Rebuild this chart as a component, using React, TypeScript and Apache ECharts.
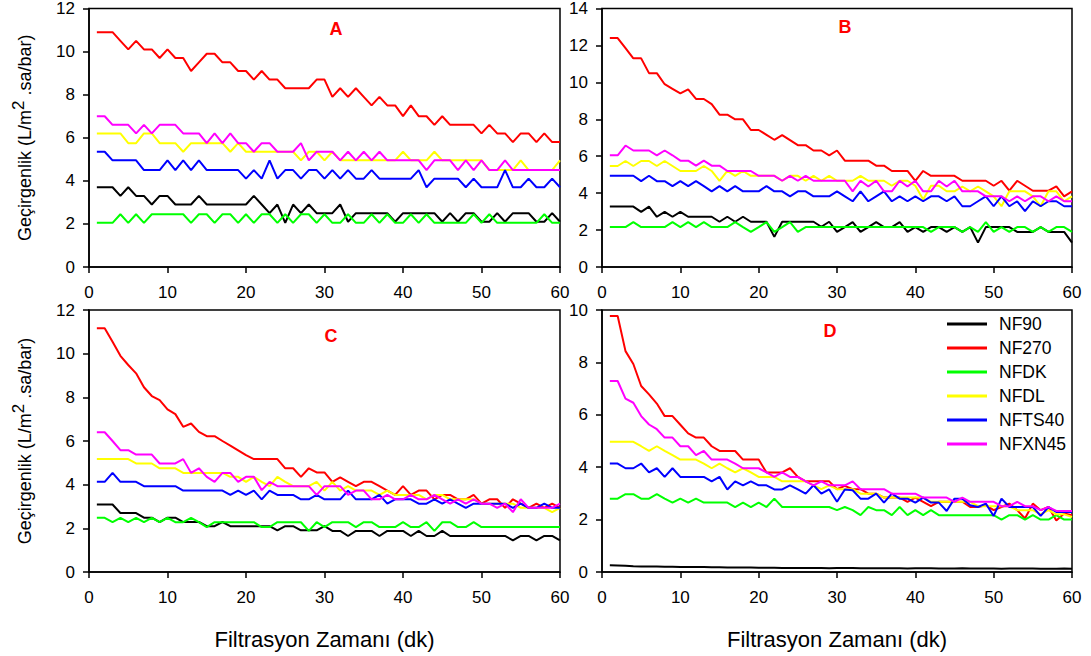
import React, { useEffect, useRef } from "react";
import * as echarts from "echarts";

const minutes: number[] = Array.from({ length: 60 }, (_, i) => i + 1);
const seriesNames = ["NF90", "NF270", "NFDK", "NFDL", "NFTS40", "NFXN45"];
const seriesColors = ["#000000", "#ff0000", "#00ff00", "#ffff00", "#0000ff", "#ff00ff"];
const panelLabels = ["A", "B", "C", "D"];
const yMaxes = [12, 14, 12, 10];
const xTitle = "Filtrasyon Zamanı (dk)";
const yTitle = "Geçirgenlik (L/m{sup|2} .sa/bar)";

// Panel A
const A_NF90 = [3.7, 3.7, 3.7, 3.3, 3.7, 3.3, 3.3, 2.9, 3.3, 3.3, 2.9, 2.9, 2.9, 3.3, 2.9, 2.9, 2.9, 2.9, 2.9, 2.9, 3.3, 2.9, 2.5, 2.9, 2.05, 2.9, 2.5, 2.9, 2.5, 2.5, 2.5, 2.9, 2.1, 2.5, 2.5, 2.5, 2.5, 2.5, 2.1, 2.5, 2.5, 2.5, 2.5, 2.5, 2.1, 2.5, 2.1, 2.5, 2.5, 2.1, 2.1, 2.5, 2.1, 2.5, 2.5, 2.5, 2.1, 2.1, 2.5, 2.1];
const A_NF270 = [10.9, 10.9, 10.9, 10.5, 10.1, 10.5, 10.1, 10.1, 9.7, 10.1, 9.7, 9.7, 9.1, 9.5, 9.9, 9.9, 9.5, 9.5, 9.1, 9.1, 8.7, 9.1, 8.7, 8.7, 8.3, 8.3, 8.3, 8.3, 8.7, 8.7, 7.9, 8.3, 7.9, 8.3, 7.9, 7.5, 7.9, 7.5, 7.5, 7.0, 7.5, 7.0, 7.0, 6.6, 7.0, 6.6, 6.6, 6.6, 6.6, 6.2, 6.6, 6.2, 6.2, 5.8, 6.2, 6.2, 5.8, 6.2, 5.8, 5.8];
const A_NFDK = [2.05, 2.05, 2.05, 2.45, 2.05, 2.45, 2.05, 2.45, 2.45, 2.45, 2.45, 2.45, 2.05, 2.45, 2.45, 2.05, 2.45, 2.45, 2.05, 2.45, 2.05, 2.45, 2.45, 2.05, 2.45, 2.05, 2.45, 2.45, 2.05, 2.45, 2.05, 2.05, 2.45, 2.05, 2.05, 2.45, 2.05, 2.45, 2.05, 2.05, 2.45, 2.05, 2.45, 2.05, 2.05, 2.05, 2.05, 2.05, 2.45, 2.05, 2.45, 2.05, 2.05, 2.05, 2.05, 2.05, 2.05, 2.45, 2.05, 2.05];
const A_NFDL = [6.2, 6.2, 6.2, 6.2, 5.75, 5.75, 6.2, 6.2, 5.75, 5.75, 5.75, 5.35, 5.75, 5.75, 5.75, 5.75, 5.75, 5.35, 5.75, 5.35, 5.35, 5.35, 5.35, 5.35, 5.35, 5.35, 4.95, 5.35, 5.35, 4.95, 5.35, 4.95, 4.95, 4.95, 4.95, 4.95, 4.95, 4.95, 4.95, 5.35, 4.95, 4.95, 4.95, 5.35, 4.95, 4.95, 4.95, 4.95, 4.95, 4.95, 4.5, 4.5, 4.5, 4.5, 4.95, 4.5, 4.5, 4.5, 4.5, 4.95];
const A_NFTS40 = [5.35, 5.35, 4.95, 4.95, 4.95, 4.95, 4.5, 4.5, 4.5, 4.95, 4.5, 4.95, 4.5, 4.95, 4.5, 4.5, 4.5, 4.5, 4.5, 4.1, 4.5, 4.1, 4.95, 4.1, 4.5, 4.5, 4.1, 4.5, 4.5, 4.1, 4.5, 4.1, 4.5, 4.1, 4.1, 4.5, 4.1, 4.1, 4.1, 4.1, 4.1, 4.5, 3.7, 4.1, 4.1, 4.1, 4.1, 3.7, 4.1, 3.7, 3.7, 3.7, 4.5, 3.7, 3.7, 4.1, 3.7, 3.7, 4.1, 3.7];
const A_NFXN45 = [7.0, 7.0, 6.6, 6.6, 6.6, 6.2, 6.6, 6.2, 6.6, 6.6, 6.6, 6.2, 6.2, 6.2, 5.75, 6.2, 5.75, 6.2, 5.75, 5.75, 5.35, 5.75, 5.75, 5.35, 5.35, 5.35, 5.75, 4.95, 5.35, 5.35, 5.35, 4.95, 5.35, 4.95, 5.35, 4.95, 5.35, 4.95, 4.95, 4.95, 4.95, 4.95, 4.5, 4.95, 4.95, 4.95, 4.5, 4.95, 4.5, 4.95, 4.5, 4.5, 4.95, 4.5, 4.5, 4.5, 4.5, 4.5, 4.5, 4.5];

// Panel B
const B_NF90 = [3.27, 3.27, 3.27, 3.27, 2.99, 3.27, 2.72, 2.99, 2.72, 2.99, 2.72, 2.72, 2.72, 2.72, 2.45, 2.72, 2.45, 2.72, 2.45, 2.45, 2.45, 1.63, 2.45, 2.45, 2.45, 2.45, 2.45, 2.18, 2.45, 1.9, 2.16, 2.43, 1.9, 2.16, 2.43, 2.16, 2.16, 2.43, 1.9, 2.16, 1.9, 2.16, 2.16, 1.9, 2.16, 1.9, 2.16, 1.32, 2.16, 2.16, 2.16, 2.16, 1.9, 1.9, 1.9, 2.16, 1.9, 1.9, 1.9, 1.32];
const B_NF270 = [12.4, 12.4, 11.85, 11.3, 11.3, 10.5, 10.5, 9.9, 9.65, 9.4, 9.62, 9.1, 9.1, 8.82, 8.25, 8.25, 8.0, 8.0, 7.42, 7.42, 7.16, 6.89, 7.14, 6.87, 6.6, 6.6, 6.31, 6.31, 6.05, 6.31, 5.76, 5.76, 5.76, 5.76, 5.49, 5.49, 5.2, 5.2, 5.2, 4.67, 5.2, 4.94, 4.94, 4.94, 4.94, 4.67, 4.67, 4.67, 4.67, 4.4, 4.67, 4.13, 4.67, 4.4, 4.13, 4.13, 4.13, 4.36, 3.83, 4.1];
const B_NFDK = [2.16, 2.16, 2.16, 2.43, 2.16, 2.16, 2.16, 2.16, 2.43, 2.16, 2.43, 2.16, 2.43, 2.16, 2.16, 2.16, 2.43, 2.16, 1.9, 2.16, 2.43, 1.9, 2.16, 2.43, 1.9, 2.16, 2.16, 2.16, 2.16, 2.16, 2.16, 2.16, 2.16, 2.16, 2.16, 2.16, 2.16, 2.16, 2.16, 2.16, 2.16, 1.9, 2.16, 2.16, 2.16, 1.9, 2.16, 1.9, 2.43, 1.9, 2.16, 1.9, 2.16, 2.16, 1.9, 2.16, 1.9, 2.16, 2.16, 1.9];
const B_NFDL = [5.47, 5.47, 5.74, 5.47, 5.74, 5.74, 5.47, 5.74, 5.47, 5.2, 5.2, 5.2, 5.47, 5.2, 4.67, 5.2, 4.94, 5.2, 4.94, 4.94, 4.94, 4.94, 4.67, 4.94, 4.94, 4.67, 4.94, 4.67, 4.94, 4.67, 4.67, 4.67, 4.94, 4.67, 4.67, 4.67, 4.4, 4.67, 4.67, 4.4, 3.65, 4.4, 4.4, 4.1, 4.1, 4.36, 4.1, 4.36, 4.1, 3.83, 3.29, 4.1, 4.1, 4.1, 3.83, 3.29, 4.1, 4.1, 3.56, 3.83];
const B_NFTS40 = [4.94, 4.94, 4.94, 4.94, 4.65, 4.94, 4.65, 4.65, 4.38, 4.65, 4.38, 4.65, 4.38, 4.1, 4.38, 4.1, 4.38, 4.1, 4.1, 4.1, 4.38, 4.1, 4.1, 3.83, 4.1, 4.1, 3.83, 3.83, 3.83, 4.1, 3.83, 3.56, 4.1, 3.56, 3.83, 4.1, 3.56, 3.83, 3.56, 3.83, 3.56, 3.83, 3.83, 3.56, 3.83, 3.29, 3.29, 3.56, 3.83, 3.29, 3.83, 3.29, 3.56, 3.02, 3.56, 3.29, 3.56, 3.56, 3.29, 3.29];
const B_NFXN45 = [6.05, 6.05, 6.58, 6.31, 6.31, 6.31, 6.05, 6.31, 6.05, 5.76, 5.76, 5.49, 5.76, 5.49, 5.49, 5.2, 5.2, 5.2, 5.2, 4.94, 4.94, 4.94, 4.67, 4.94, 4.67, 4.94, 4.67, 4.67, 4.67, 4.67, 4.67, 4.1, 4.67, 4.36, 4.67, 4.1, 4.1, 4.67, 4.36, 4.67, 4.1, 4.1, 4.67, 4.36, 4.67, 4.1, 4.1, 4.1, 3.83, 3.83, 3.83, 3.56, 3.83, 3.56, 3.83, 3.83, 3.56, 3.83, 3.56, 3.56];

// Panel C
const C_NF90 = [3.09, 3.09, 3.09, 2.7, 2.7, 2.7, 2.49, 2.49, 2.29, 2.49, 2.49, 2.29, 2.29, 2.29, 2.1, 2.1, 2.29, 2.1, 2.1, 2.1, 2.1, 2.1, 2.1, 1.91, 2.1, 2.1, 1.91, 1.91, 1.91, 2.1, 1.88, 1.88, 1.65, 1.88, 1.88, 1.88, 1.65, 1.88, 1.88, 1.88, 1.65, 1.88, 1.65, 1.65, 1.88, 1.65, 1.65, 1.65, 1.65, 1.65, 1.65, 1.65, 1.65, 1.45, 1.65, 1.65, 1.45, 1.65, 1.65, 1.45];
const C_NF270 = [11.16, 11.16, 10.55, 9.9, 9.48, 9.1, 8.46, 8.06, 7.87, 7.45, 7.23, 6.65, 6.8, 6.42, 6.22, 6.22, 6.0, 5.79, 5.57, 5.35, 5.17, 5.17, 5.17, 5.17, 4.75, 4.75, 4.36, 4.75, 4.56, 4.56, 4.13, 4.33, 4.13, 3.93, 4.13, 4.13, 3.93, 3.73, 3.53, 3.93, 3.53, 3.73, 3.73, 3.33, 3.53, 3.53, 3.33, 3.33, 3.53, 3.13, 3.33, 3.33, 2.94, 3.33, 3.13, 2.94, 3.13, 2.94, 3.13, 2.94];
const C_NFDK = [2.48, 2.48, 2.28, 2.48, 2.28, 2.48, 2.28, 2.48, 2.28, 2.48, 2.28, 2.28, 2.48, 2.28, 2.06, 2.28, 2.28, 2.28, 2.28, 2.28, 2.28, 2.06, 2.06, 2.28, 2.28, 2.28, 2.28, 1.88, 2.28, 2.06, 2.28, 2.28, 2.28, 2.06, 2.28, 2.28, 2.06, 2.06, 2.06, 2.28, 2.06, 2.06, 2.28, 1.88, 2.28, 2.28, 2.06, 2.06, 2.28, 2.06, 2.06, 2.06, 2.06, 2.06, 2.06, 2.06, 2.06, 2.06, 2.06, 2.06];
const C_NFDL = [5.17, 5.17, 5.17, 5.17, 5.17, 4.97, 4.97, 4.97, 4.75, 4.75, 4.75, 4.54, 4.54, 4.54, 4.54, 4.54, 4.54, 4.36, 4.36, 4.13, 4.36, 4.13, 3.93, 4.36, 4.13, 3.93, 3.93, 3.93, 4.13, 3.73, 4.13, 3.73, 3.93, 3.73, 3.73, 3.73, 3.53, 3.73, 3.53, 3.53, 3.53, 3.53, 3.33, 3.53, 3.53, 3.33, 3.33, 3.33, 3.33, 3.13, 3.13, 3.13, 3.13, 3.13, 2.94, 2.94, 2.94, 2.94, 2.74, 2.94];
const C_NFTS40 = [4.13, 4.13, 4.54, 4.13, 4.13, 4.13, 3.93, 3.93, 3.93, 3.93, 3.93, 3.73, 3.73, 3.73, 3.73, 3.73, 3.73, 3.53, 3.73, 3.53, 3.73, 3.33, 3.73, 3.53, 3.53, 3.53, 3.33, 3.33, 3.53, 3.33, 3.33, 3.33, 3.73, 3.33, 3.33, 3.33, 3.53, 3.13, 3.33, 3.33, 3.33, 3.13, 3.13, 3.33, 3.13, 3.33, 3.13, 2.94, 3.13, 3.13, 3.13, 3.13, 3.13, 2.94, 3.13, 2.94, 2.94, 3.13, 2.94, 2.94];
const C_NFXN45 = [6.4, 6.4, 6.0, 5.58, 5.58, 5.38, 5.38, 5.38, 4.97, 4.97, 4.97, 5.17, 4.54, 4.75, 4.36, 4.13, 4.54, 4.54, 4.13, 4.36, 4.36, 3.75, 4.13, 3.93, 3.93, 3.93, 3.93, 3.93, 3.53, 3.93, 3.93, 3.93, 3.53, 3.73, 3.73, 3.33, 3.33, 3.53, 3.33, 3.33, 3.53, 3.33, 3.33, 3.53, 3.33, 3.13, 3.33, 3.13, 3.33, 3.13, 3.13, 2.94, 3.13, 2.74, 3.33, 2.94, 2.94, 2.94, 2.94, 3.13];

// Panel D
const D_NF90 = [0.26, 0.25, 0.24, 0.22, 0.21, 0.21, 0.21, 0.2, 0.2, 0.19, 0.19, 0.19, 0.19, 0.18, 0.18, 0.17, 0.17, 0.17, 0.17, 0.16, 0.16, 0.16, 0.15, 0.15, 0.15, 0.15, 0.15, 0.15, 0.14, 0.15, 0.15, 0.15, 0.14, 0.14, 0.14, 0.14, 0.14, 0.14, 0.13, 0.14, 0.14, 0.14, 0.13, 0.13, 0.13, 0.14, 0.13, 0.13, 0.13, 0.13, 0.12, 0.13, 0.13, 0.13, 0.13, 0.12, 0.12, 0.12, 0.13, 0.12];
const D_NF270 = [9.77, 9.77, 8.43, 7.94, 7.1, 6.78, 6.43, 5.95, 5.95, 5.62, 5.29, 5.13, 5.13, 4.8, 4.62, 4.62, 4.62, 4.29, 4.29, 4.29, 3.8, 3.8, 3.8, 3.96, 3.63, 3.46, 3.46, 3.46, 3.46, 3.16, 3.29, 3.16, 3.16, 2.99, 2.99, 2.84, 2.84, 2.84, 2.68, 2.84, 2.68, 2.51, 2.68, 2.68, 2.68, 2.68, 2.48, 2.48, 2.55, 2.36, 2.48, 2.61, 2.36, 2.04, 2.61, 2.36, 2.48, 1.97, 2.23, 2.17];
const D_NFDK = [2.8, 2.8, 2.97, 2.97, 2.8, 2.8, 2.97, 2.8, 2.65, 2.8, 2.65, 2.8, 2.65, 2.65, 2.65, 2.65, 2.48, 2.65, 2.48, 2.65, 2.48, 2.8, 2.48, 2.48, 2.48, 2.48, 2.48, 2.48, 2.48, 2.36, 2.48, 2.36, 2.17, 2.48, 2.36, 2.36, 2.17, 2.48, 2.17, 2.36, 2.17, 2.36, 2.17, 2.17, 2.17, 2.17, 2.17, 2.17, 2.17, 2.17, 2.0, 2.17, 2.17, 2.0, 2.17, 2.0, 2.0, 2.17, 2.0, 2.0];
const D_NFDL = [4.97, 4.97, 4.97, 4.97, 4.8, 4.62, 4.8, 4.62, 4.46, 4.29, 4.29, 4.29, 4.14, 3.96, 4.14, 3.96, 3.8, 3.96, 3.8, 3.63, 3.63, 3.63, 3.46, 3.46, 3.46, 3.46, 3.31, 3.16, 3.31, 3.16, 3.16, 3.16, 2.99, 2.99, 2.99, 2.84, 2.84, 2.84, 2.84, 2.84, 2.84, 2.68, 2.68, 2.68, 2.68, 2.68, 2.68, 2.51, 2.51, 2.51, 2.51, 2.51, 2.36, 2.36, 2.36, 2.2, 2.36, 2.2, 2.2, 2.1];
const D_NFTS40 = [4.14, 4.14, 3.96, 3.96, 4.14, 3.8, 3.96, 3.63, 3.96, 3.63, 3.63, 3.63, 3.63, 3.46, 3.63, 3.15, 3.46, 3.31, 3.46, 3.31, 3.31, 3.15, 3.15, 3.31, 3.15, 2.99, 3.31, 2.99, 3.15, 2.68, 3.15, 3.12, 2.8, 2.8, 2.99, 2.65, 2.99, 2.8, 2.8, 2.65, 2.84, 2.65, 2.65, 2.33, 2.8, 2.8, 2.55, 2.48, 2.61, 2.14, 2.8, 2.48, 2.48, 2.48, 2.48, 2.14, 2.48, 2.29, 2.29, 2.29];
const D_NFXN45 = [7.29, 7.29, 6.62, 6.46, 5.95, 5.63, 5.45, 5.13, 5.13, 4.8, 4.8, 4.46, 4.62, 4.29, 4.29, 4.29, 4.14, 3.96, 3.96, 3.96, 3.8, 3.63, 3.8, 3.63, 3.63, 3.46, 3.31, 3.46, 3.31, 3.31, 3.31, 3.46, 3.16, 3.16, 3.16, 3.16, 2.99, 2.99, 2.99, 2.99, 2.84, 2.84, 2.84, 2.84, 2.68, 2.84, 2.68, 2.68, 2.68, 2.68, 2.51, 2.51, 2.68, 2.51, 2.51, 2.36, 2.48, 2.33, 2.33, 2.33];

const panels: number[][][] = [
  [A_NF90, A_NF270, A_NFDK, A_NFDL, A_NFTS40, A_NFXN45],
  [B_NF90, B_NF270, B_NFDK, B_NFDL, B_NFTS40, B_NFXN45],
  [C_NF90, C_NF270, C_NFDK, C_NFDL, C_NFTS40, C_NFXN45],
  [D_NF90, D_NF270, D_NFDK, D_NFDL, D_NFTS40, D_NFXN45],
];

const FONT = "'Liberation Sans', Arial, Helvetica, sans-serif";

export default function App() {
  const ref = useRef<HTMLDivElement>(null);
  useEffect(() => {
    if (!ref.current) return;
    const chart = echarts.init(ref.current, undefined, { renderer: "svg" });
    const gridPos = [
      { left: 89, top: 6, width: 471, height: 261 },
      { left: 602, top: 6, width: 470, height: 261 },
      { left: 89, top: 310, width: 471, height: 262 },
      { left: 602, top: 310, width: 470, height: 262 },
    ];
    const labelPos = [
      [336, 29],
      [845, 27],
      [331, 336],
      [830, 331],
    ];
    const axisLine = { lineStyle: { color: "#000", width: 1.5 } };
    const axisTick = { inside: false, length: 6, lineStyle: { color: "#000", width: 1.5 } };
    const series: any[] = [];
    panels.forEach((p, pi) => {
      p.forEach((vals, si) => {
        series.push({
          type: "line",
          name: seriesNames[si],
          xAxisIndex: pi,
          yAxisIndex: pi,
          symbol: "none",
          lineStyle: { width: 2, color: seriesColors[si] },
          itemStyle: { color: seriesColors[si] },
          data: minutes.map((m, i) => [m, vals[i]]),
        });
      });
    });
    chart.setOption({
      animation: false,
      backgroundColor: "#fff",
      textStyle: { fontFamily: FONT },
      grid: gridPos.map((g) => ({ ...g, show: true, borderColor: "#000", borderWidth: 1.5, containLabel: false })),
      xAxis: gridPos.map((_, i) => ({
        type: "value",
        gridIndex: i,
        min: 0,
        max: 60,
        interval: 10,
        axisLine,
        axisTick,
        splitLine: { show: false },
        axisLabel: { fontSize: 17, color: "#000", margin: 17, fontFamily: FONT },
        name: i >= 2 ? xTitle : "",
        nameLocation: "middle",
        nameGap: 56,
        nameTextStyle: { fontSize: 22, color: "#000", fontFamily: FONT },
      })),
      yAxis: gridPos.map((_, i) => ({
        type: "value",
        gridIndex: i,
        min: 0,
        max: yMaxes[i],
        interval: 2,
        axisLine,
        axisTick,
        splitLine: { show: false },
        axisLabel: { fontSize: 17, color: "#000", margin: 14, fontFamily: FONT },
        name: i % 2 === 0 ? yTitle : "",
        nameLocation: "middle",
        nameGap: 49,
        nameRotate: 90,
        nameTextStyle: {
          fontSize: 18,
          color: "#000",
          fontFamily: FONT,
          lineHeight: 30,
          rich: { sup: { fontSize: 17, verticalAlign: "top", lineHeight: 17, fontFamily: FONT, color: "#000" } },
        },
      })),
      legend: {
        orient: "vertical",
        left: 947,
        top: 315,
        padding: 0,
        itemWidth: 40,
        itemHeight: 3,
        itemGap: 6,
        icon: "rect",
        data: seriesNames,
        textStyle: { fontSize: 17.5, color: "#000", fontFamily: FONT, lineHeight: 17, padding: [0, 0, 0, 7] },
      },
      graphic: labelPos.map((pos, i) => ({
        type: "text",
        x: pos[0],
        y: pos[1],
        style: {
          text: panelLabels[i],
          fill: "#ff0000",
          font: `bold 18px ${FONT}`,
          textAlign: "center",
          textVerticalAlign: "middle",
        },
      })),
      series,
    });
    return () => chart.dispose();
  }, []);
  return (
    <div
      ref={ref}
      style={{ position: "fixed", left: 0, top: 0, width: 1091, height: 656, background: "#fff" }}
    />
  );
}
